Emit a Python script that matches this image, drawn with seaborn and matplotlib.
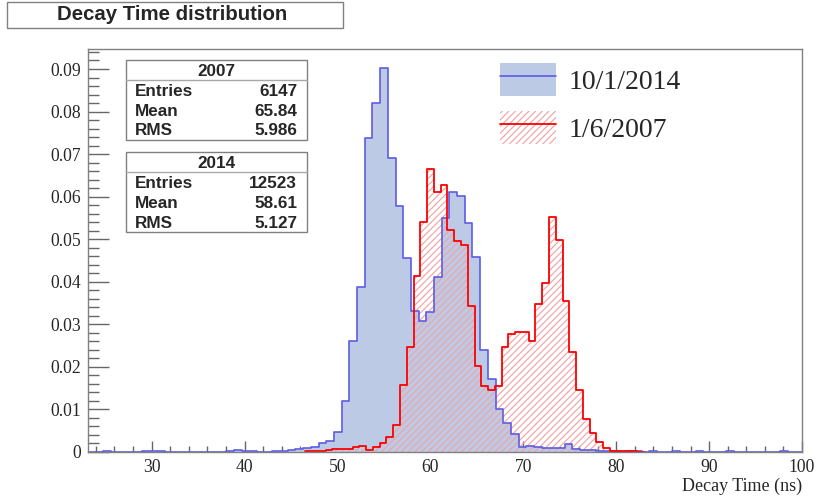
import numpy as np
import pandas as pd
import matplotlib
matplotlib.use("Agg")
import matplotlib.pyplot as plt
import seaborn as sns
from matplotlib.patches import Rectangle, Patch
from matplotlib.lines import Line2D
from matplotlib.ticker import MultipleLocator, FuncFormatter

#--------------------------------
#DATA (bin contents normalised to 1)
#--------------------------------
BLUE_START, BLUE_WIDTH = 23.13, 0.828   # 10/1/2014 binning (ns)
RED_START, RED_WIDTH = 46.53, 0.729     # 1/6/2007 binning (ns)

blue_vals = [0.0001, 0.0001, 0.0002, 0.0001, 0.0001, 0.0001, 0.0001,
             0.0003, 0.0003, 0.0002,
             0.0001, 0.0001, 0.0000, 0.0001, 0.0001, 0.0001, 0.0001, 0.0001, 0.0002,
             0.0004,
             0.0002, 0.0002, 0.0001, 0.0001, 0.0002,
             0.0003, 0.0005, 0.0007, 0.0010, 0.0012, 0.0022, 0.0027, 0.0047, 0.0121,
             0.0262, 0.0387, 0.0738, 0.0819, 0.0902, 0.0692, 0.0577, 0.0456, 0.0332, 0.0308,
             0.0329, 0.0412, 0.0551, 0.0611, 0.0601, 0.0538, 0.0458, 0.0240, 0.0171, 0.0100,
             0.0068, 0.0042,
             0.0012, 0.0013, 0.0012, 0.0009, 0.0010, 0.0010, 0.0019, 0.0008,
             0.0005, 0.0004, 0.0003, 0.0002, 0.0002, 0.0001, 0.0003, 0.0002, 0.0001, 0.0002,
             0.0001, 0.0001, 0.0002, 0.0001, 0.0001, 0.0002, 0.0001, 0.0001, 0.0001, 0.0002,
             0.0001, 0.0001, 0.0001, 0.0001, 0.0001, 0.0001, 0.0002, 0.0001, 0.0001]

red_vals = [0.0002, 0.0002, 0.0003, 0.0005, 0.0006, 0.0007, 0.0008, 0.0011, 0.0014, 0.0005,
            0.0011, 0.0022, 0.0036, 0.0064,
            0.0158, 0.0246, 0.0413, 0.0540, 0.0666, 0.0611, 0.0628, 0.0522, 0.0496, 0.0486,
            0.0344, 0.0203, 0.0154, 0.0146, 0.0154, 0.0246, 0.0278, 0.0283, 0.0282, 0.0260,
            0.0348, 0.0398, 0.0552, 0.0499, 0.0354, 0.0235, 0.0146, 0.0078, 0.0045, 0.0024,
            0.0010, 0.0002,
            0.0003, 0.0002, 0.0002, 0.0001]

stat_names = ["Entries", "Mean", "RMS"]
stats_2007 = ["6147", "65.84", "5.986"]
stats_2014 = ["12523", "58.61", "5.127"]
legend_labels = ["10/1/2014", "1/6/2007"]
TITLE = "Decay Time distribution"
XLABEL = "Decay Time (ns)"

#COLOURS
BLUE_FILL = "#bdcae6"
BLUE_LINE = "#5c5ce6"
RED_LINE = "#ff0000"
RED_HATCH = "#f2a0a0"
GRID_GRAY = "#808080"

SERIF = ["Liberation Serif", "DejaVu Serif"]
SANS = ["Liberation Sans", "DejaVu Sans"]

#--------------------------------
#FIGURE
#--------------------------------
sns.set_style("white")
plt.rcParams["font.family"] = SERIF
plt.rcParams["hatch.linewidth"] = 0.8

W, H = 817, 499
fig = plt.figure(figsize=(W / 100, H / 100), dpi=100)
fx = lambda x: x / W
fy = lambda y: 1 - y / H
ax = fig.add_axes([fx(87.5), fy(452), fx(802) - fx(87.5), fy(49) - fy(452)])

blue_edges = list(BLUE_START + BLUE_WIDTH * np.arange(len(blue_vals) + 1))
red_edges = list(RED_START + RED_WIDTH * np.arange(len(red_vals) + 1))
df_blue = pd.DataFrame({"t": np.array(blue_edges[:-1]) + BLUE_WIDTH / 2, "w": blue_vals})
df_red = pd.DataFrame({"t": np.array(red_edges[:-1]) + RED_WIDTH / 2, "w": red_vals})

#FILLS
sns.histplot(data=df_blue, x="t", weights="w", bins=blue_edges, element="step", fill=True,
             color=BLUE_FILL, facecolor=BLUE_FILL, edgecolor="none", linewidth=0, ax=ax)
sns.histplot(data=df_red, x="t", weights="w", bins=red_edges, element="step", fill=True,
             color=RED_HATCH, facecolor="none", edgecolor=RED_HATCH, hatch="/////",
             linewidth=0, ax=ax)
#OUTLINES
sns.histplot(data=df_blue, x="t", weights="w", bins=blue_edges, element="step", fill=False,
             color=BLUE_LINE, linewidth=1.2, ax=ax)
sns.histplot(data=df_red, x="t", weights="w", bins=red_edges, element="step", fill=False,
             color=RED_LINE, linewidth=1.3, ax=ax)

ax.set_xlim(23.1, 100)
ax.set_ylim(0, 0.0947)
ax.set_ylabel("")
ax.set_xlabel(XLABEL, loc="right", fontsize=13, family=SERIF)
ax.xaxis.set_label_coords(1.0, -0.063)

#AXES STYLE (ROOT-LIKE)
for s in ax.spines.values():
    s.set_color(GRID_GRAY)
    s.set_linewidth(1.0)
ax.xaxis.set_major_locator(MultipleLocator(10))
ax.xaxis.set_minor_locator(MultipleLocator(2))
ax.yaxis.set_major_locator(MultipleLocator(0.01))
ax.yaxis.set_minor_locator(MultipleLocator(0.002))
ax.yaxis.set_major_formatter(FuncFormatter(lambda v, _: f"{v:.2f}".rstrip("0").rstrip(".")))
ax.tick_params(axis="both", which="both", direction="in", color="#666666",
               width=1.0, labelsize=12.7, top=False, right=False, left=True, bottom=True)
ax.tick_params(axis="y", which="major", length=15, pad=4.5)
ax.tick_params(axis="y", which="minor", length=8)
ax.tick_params(axis="x", which="major", length=8, pad=5)
ax.tick_params(axis="x", which="minor", length=4.3)

#TITLE BOX
fig.add_artist(Rectangle((fx(7), fy(28.3)), fx(343) - fx(7), fy(1.7) - fy(28.3),
                         transform=fig.transFigure, facecolor="white",
                         edgecolor=GRID_GRAY, linewidth=1.0))
fig.text(fx(172), fy(14), TITLE, ha="center", va="center", fontsize=14.7,
         fontweight="bold", family=SANS)

#STATS BOXES
def stats_box(top, header, values):
    left, right = 126, 307
    fig.add_artist(Rectangle((fx(left), fy(top + 80)), fx(right) - fx(left), fy(top) - fy(top + 80),
                             transform=fig.transFigure, facecolor="white",
                             edgecolor=GRID_GRAY, linewidth=1.0))
    fig.add_artist(Line2D([fx(left), fx(right)], [fy(top + 20), fy(top + 20)],
                          transform=fig.transFigure, color="#a8a8a8", linewidth=1.0))
    fig.text(fx((left + right) / 2), fy(top + 11), header, ha="center", va="center",
             fontsize=12.3, fontweight="bold", family=SANS)
    for i, (name, val) in enumerate(zip(stat_names, values)):
        yy = fy(top + 31 + 20 * i)
        fig.text(fx(135), yy, name, ha="left", va="center", fontsize=12.3,
                 fontweight="bold", family=SANS)
        fig.text(fx(297), yy, val, ha="right", va="center", fontsize=12.3,
                 fontweight="bold", family=SANS)

stats_box(60, "2007", stats_2007)
stats_box(152, "2014", stats_2014)

#LEGEND
handles = [(Patch(facecolor=BLUE_FILL, edgecolor="none"), Line2D([], [], color=BLUE_LINE, linewidth=1.2)),
           (Patch(facecolor="white", edgecolor=RED_HATCH, hatch="/////", linewidth=0),
            Line2D([], [], color=RED_LINE, linewidth=1.3))]
fig.legend(handles, legend_labels, loc="upper left", bbox_to_anchor=(fx(500), fy(63)),
           frameon=False, prop={"family": SERIF, "size": 20},
           handlelength=2.0, handleheight=1.43, handletextpad=0.47,
           labelspacing=0.56, borderpad=0, borderaxespad=0)

fig.savefig("out.png", dpi=100)
